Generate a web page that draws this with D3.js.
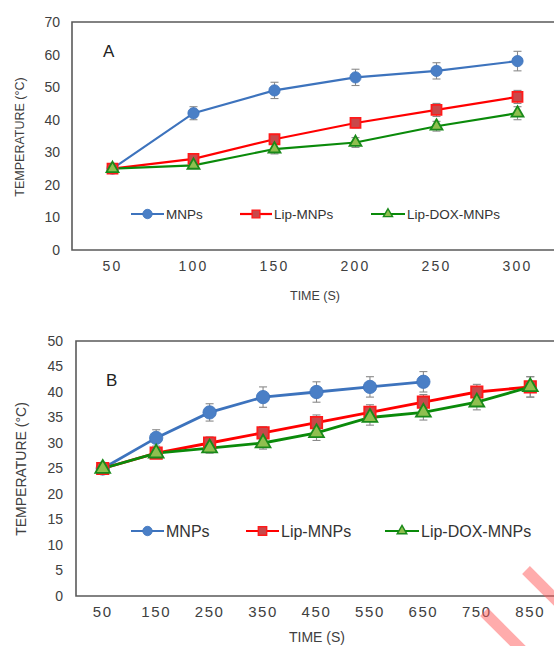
<!DOCTYPE html>
<html>
<head>
<meta charset="utf-8">
<script src="https://cdn.jsdelivr.net/npm/d3@7"></script>
<style>
  html, body { margin: 0; padding: 0; background: #fff; }
  svg { display: block; font-family: "Liberation Sans", Arial, sans-serif; }
</style>
</head>
<body>
<svg id="chart" width="554" height="646"></svg>
<script>
// ---------- DATA ----------
const seriesNames = ["MNPs", "Lip-MNPs", "Lip-DOX-MNPs"];

// Panel A
const timesA = ["50", "100", "150", "200", "250", "300"];
const mnpsA = [25, 42, 49, 53, 55, 58];
const lipA = [25, 28, 34, 39, 43, 47];
const doxA = [25, 26, 31, 33, 38, 42];
const mnpsErrA = [0.5, 2, 2.5, 2.5, 2.5, 3];
const lipErrA = [0.5, 1, 1.5, 1.5, 2, 2];
const doxErrA = [0.5, 1, 1.5, 1.5, 1.5, 2];
const yTicksA = [0, 10, 20, 30, 40, 50, 60, 70];

// Panel B
const timesB = ["50", "150", "250", "350", "450", "550", "650", "750", "850"];
const mnpsB = [25, 31, 36, 39, 40, 41, 42, null, null];
const lipB = [25, 28, 30, 32, 34, 36, 38, 40, 41];
const doxB = [25, 28, 29, 30, 32, 35, 36, 38, 41];
const mnpsErrB = [0.5, 1.6, 1.7, 2, 2, 2, 2, null, null];
const lipErrB = [0.5, 1, 1.2, 1.2, 1.5, 1.5, 1.5, 1.5, 2];
const doxErrB = [0.5, 1, 1, 1.2, 1.5, 1.5, 1.5, 1.5, 2];
const yTicksB = [0, 5, 10, 15, 20, 25, 30, 35, 40, 45, 50];

// ---------- STYLE ----------
const colors = {
  MNPs: { line: "#3d73bd", fill: "#4a7fc6", stroke: "#3d73bd" },
  "Lip-MNPs": { line: "#ff0000", fill: "#c8484a", stroke: "#ff1a1a" },
  "Lip-DOX-MNPs": { line: "#0a8a0a", fill: "#8fbf4f", stroke: "#1a8a1a" }
};
const shapes = { MNPs: d3.symbolCircle, "Lip-MNPs": d3.symbolSquare, "Lip-DOX-MNPs": d3.symbolTriangle };

const svg = d3.select("#chart");

function drawPanel(cfg) {
  const g = svg.append("g");
  const x = d3.scaleBand().domain(cfg.times).range([cfg.left, cfg.right]);
  const y = d3.scaleLinear().domain([0, cfg.yMax]).range([cfg.bottom, cfg.top]);
  const cx = d => x(d) + x.bandwidth() / 2;

  // frame: top, left, bottom
  g.append("path")
    .attr("d", `M${cfg.right},${cfg.top}H${cfg.left}V${cfg.bottom}H${cfg.right}`)
    .attr("fill", "none").attr("stroke", "#5a5a5a").attr("stroke-width", 1.6);

  // y axis labels
  const yAxis = d3.axisLeft(y).tickValues(cfg.yTicks).tickSize(0).tickPadding(cfg.yPad);
  const ya = g.append("g").attr("transform", `translate(${cfg.left},0)`).call(yAxis);
  ya.select(".domain").remove();
  ya.selectAll("text").attr("font-size", cfg.yTickFont).attr("fill", "#404040")
    .attr("font-family", "Liberation Sans, Arial, sans-serif");

  // x axis labels
  const xAxis = d3.axisBottom(x).tickSize(0).tickPadding(cfg.xPad);
  const xa = g.append("g").attr("transform", `translate(0,${cfg.bottom})`).call(xAxis);
  xa.select(".domain").remove();
  xa.selectAll("text").attr("font-size", cfg.xTickFont).attr("fill", "#404040")
    .attr("letter-spacing", cfg.xTickLs)
    .attr("font-family", "Liberation Sans, Arial, sans-serif");

  // axis titles
  g.append("text").attr("x", cfg.xTitleX).attr("y", cfg.xTitleY)
    .attr("text-anchor", "middle").attr("font-size", cfg.titleFont).attr("fill", "#404040").text("TIME (S)");
  g.append("text")
    .attr("transform", `translate(${cfg.yTitleX},${cfg.yTitleY}) rotate(-90)`)
    .attr("text-anchor", "middle").attr("font-size", cfg.titleFont).attr("fill", "#404040").text("TEMPERATURE (°C)");

  // panel letter
  g.append("text").attr("x", cfg.letterX).attr("y", cfg.letterY)
    .attr("font-size", 17).attr("fill", "#222").text(cfg.letter);

  const series = [
    { name: "MNPs", values: cfg.mnps, errs: cfg.mnpsErr },
    { name: "Lip-MNPs", values: cfg.lip, errs: cfg.lipErr },
    { name: "Lip-DOX-MNPs", values: cfg.dox, errs: cfg.doxErr }
  ];

  series.forEach(s => {
    const pts = cfg.times.map((t, i) => ({ t, v: s.values[i], e: s.errs[i] })).filter(p => p.v != null);
    const line = d3.line().x(p => cx(p.t)).y(p => y(p.v));
    g.append("path").datum(pts).attr("d", line)
      .attr("fill", "none").attr("stroke", colors[s.name].line).attr("stroke-width", cfg.lineW);
  });

  // error bars
  series.forEach(s => {
    const pts = cfg.times.map((t, i) => ({ t, v: s.values[i], e: s.errs[i] })).filter(p => p.v != null);
    const eb = g.append("g").attr("stroke", "#8a8a8a").attr("stroke-width", 1.1);
    pts.forEach(p => {
      const X = cx(p.t), y1 = y(p.v + p.e), y2 = y(p.v - p.e);
      eb.append("line").attr("x1", X).attr("x2", X).attr("y1", y1).attr("y2", y2);
      eb.append("line").attr("x1", X - 4).attr("x2", X + 4).attr("y1", y1).attr("y2", y1);
      eb.append("line").attr("x1", X - 4).attr("x2", X + 4).attr("y1", y2).attr("y2", y2);
    });
  });

  // markers
  series.forEach(s => {
    const pts = cfg.times.map((t, i) => ({ t, v: s.values[i] })).filter(p => p.v != null);
    g.append("g").selectAll("path").data(pts).join("path")
      .attr("d", d3.symbol().type(shapes[s.name]).size(cfg.markerSize[s.name]))
      .attr("transform", p => `translate(${cx(p.t)},${y(p.v)})`)
      .attr("fill", colors[s.name].fill)
      .attr("stroke", colors[s.name].stroke)
      .attr("stroke-width", s.name === "MNPs" ? 0.8 : 1.8);
  });

  // legend
  const lg = g.append("g");
  cfg.legend.forEach((L, i) => {
    const name = seriesNames[i];
    lg.append("line").attr("x1", L.x1).attr("x2", L.x2).attr("y1", cfg.legendY).attr("y2", cfg.legendY)
      .attr("stroke", colors[name].line).attr("stroke-width", 2.2);
    lg.append("path")
      .attr("d", d3.symbol().type(shapes[name]).size(cfg.legendMarker[name]))
      .attr("transform", `translate(${(L.x1 + L.x2) / 2},${cfg.legendY})`)
      .attr("fill", colors[name].fill).attr("stroke", colors[name].stroke)
      .attr("stroke-width", name === "MNPs" ? 0.8 : 1.4);
    lg.append("text").attr("x", L.x2 + 2).attr("y", cfg.legendY + cfg.legendFont * 0.36)
      .attr("font-size", cfg.legendFont).attr("fill", "#333").text(name);
  });
}

drawPanel({
  times: timesA, yMax: 70, yTicks: yTicksA,
  mnps: mnpsA, lip: lipA, dox: doxA,
  mnpsErr: mnpsErrA, lipErr: lipErrA, doxErr: doxErrA,
  left: 72, right: 558, top: 22, bottom: 250, yPad: 12, xPad: 11,
  yTickFont: 14, xTickFont: 14, xTickLs: 2.3, titleFont: 12.5,
  xTitleX: 315, xTitleY: 300, yTitleX: 24, yTitleY: 137,
  letter: "A", letterX: 103, letterY: 57,
  lineW: 2.2,
  markerSize: { MNPs: 100, "Lip-MNPs": 100, "Lip-DOX-MNPs": 62 },
  legendMarker: { MNPs: 70, "Lip-MNPs": 60, "Lip-DOX-MNPs": 36 },
  legendY: 214, legendFont: 13.5,
  legend: [{ x1: 131, x2: 164 }, { x1: 240, x2: 272 }, { x1: 371, x2: 405 }]
});

drawPanel({
  times: timesB, yMax: 50, yTicks: yTicksB,
  mnps: mnpsB, lip: lipB, dox: doxB,
  mnpsErr: mnpsErrB, lipErr: lipErrB, doxErr: doxErrB,
  left: 76, right: 557, top: 341, bottom: 596, yPad: 13, xPad: 10,
  yTickFont: 14, xTickFont: 15, xTickLs: 1.6, titleFont: 14,
  xTitleX: 317, xTitleY: 642, yTitleX: 26, yTitleY: 469,
  letter: "B", letterX: 106, letterY: 386,
  lineW: 2.8,
  markerSize: { MNPs: 140, "Lip-MNPs": 130, "Lip-DOX-MNPs": 95 },
  legendMarker: { MNPs: 70, "Lip-MNPs": 70, "Lip-DOX-MNPs": 40 },
  legendY: 531, legendFont: 16,
  legend: [{ x1: 131, x2: 164 }, { x1: 246, x2: 279 }, { x1: 385, x2: 419 }]
});

// watermark stripes (image artifact)
const wm = svg.append("g").attr("stroke", "#ff5a5a").attr("stroke-opacity", 0.5).attr("stroke-width", 11);
wm.append("line").attr("x1", 526).attr("y1", 570).attr("x2", 562).attr("y2", 606);
wm.append("line").attr("x1", 484).attr("y1", 612).attr("x2", 524).attr("y2", 652);
</script>
</body>
</html>
